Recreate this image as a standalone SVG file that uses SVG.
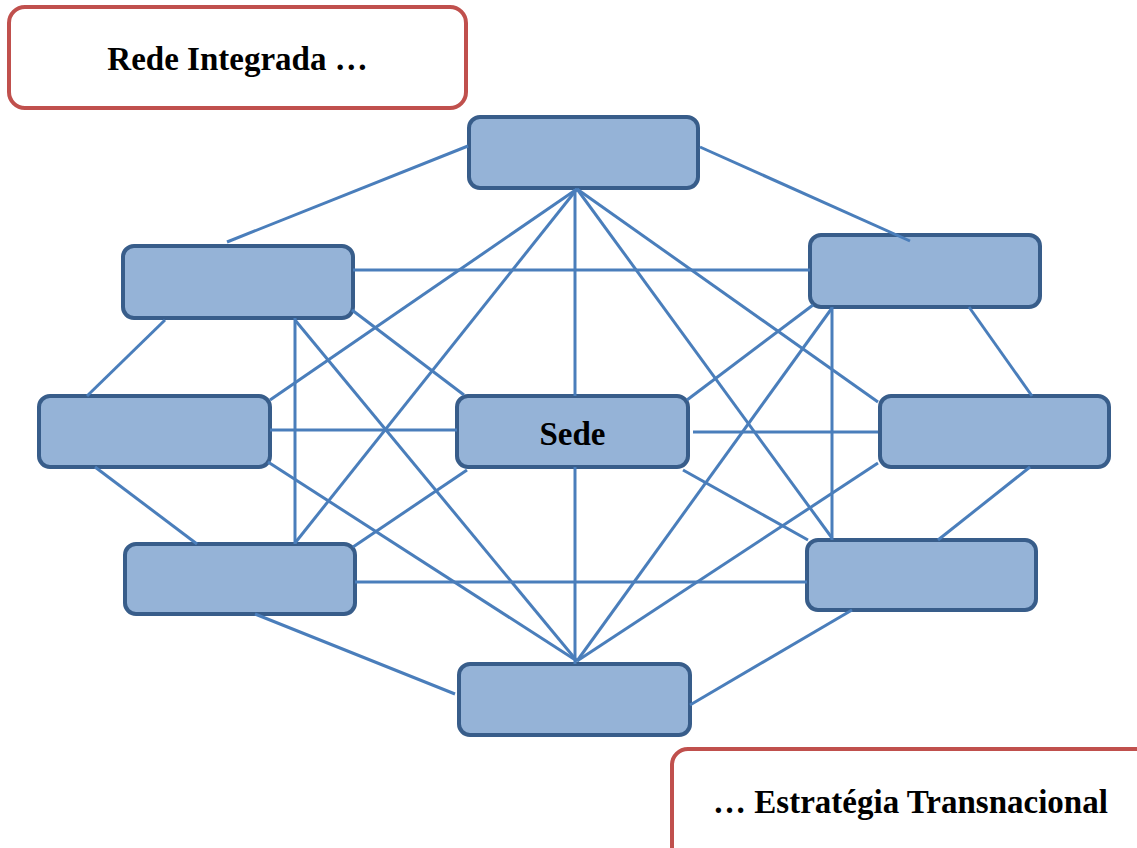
<svg xmlns="http://www.w3.org/2000/svg" width="1137" height="848" viewBox="0 0 1137 848">
  <style>
    .node { fill: #95b3d7; stroke: #385d8a; stroke-width: 4; }
    .note { fill: #ffffff; stroke: #c0504d; stroke-width: 4; }
    .link { stroke: #4a7ebb; stroke-width: 3; fill: none; stroke-linecap: butt; }
    .label { font-family: "Liberation Serif", "Times New Roman", serif; font-weight: bold; font-size: 33px; fill: #000000; text-anchor: middle; }
  </style>

  <!-- Caption boxes -->
  <g id="note-top">
    <rect class="note" x="9" y="7" width="457" height="101" rx="16" ry="16"/>
    <text class="label" x="237.5" y="70">Rede Integrada …</text>
  </g>
  <g id="note-bottom">
    <rect class="note" x="672" y="749" width="480" height="130" rx="16" ry="16"/>
    <text class="label" x="910.5" y="813">… Estratégia Transnacional</text>
  </g>

  <!-- Network units -->
  <g id="node-top"><rect class="node" x="469" y="117" width="229" height="71" rx="11" ry="11"/></g>
  <g id="node-upper-left"><rect class="node" x="123" y="246" width="230" height="72" rx="11" ry="11"/></g>
  <g id="node-upper-right"><rect class="node" x="810" y="235" width="230" height="72" rx="11" ry="11"/></g>
  <g id="node-left"><rect class="node" x="39" y="396" width="231" height="71" rx="11" ry="11"/></g>
  <g id="node-sede">
    <rect class="node" x="457" y="396" width="231" height="71" rx="11" ry="11"/>
    <text class="label" x="572.5" y="445">Sede</text>
  </g>
  <g id="node-right"><rect class="node" x="880" y="396" width="229" height="71" rx="11" ry="11"/></g>
  <g id="node-lower-left"><rect class="node" x="125" y="544" width="230" height="70" rx="11" ry="11"/></g>
  <g id="node-lower-right"><rect class="node" x="807" y="540" width="229" height="70" rx="11" ry="11"/></g>
  <g id="node-bottom"><rect class="node" x="459" y="664" width="231" height="71" rx="11" ry="11"/></g>

  <!-- Connectors -->
  <g id="connectors" class="link">
    <!-- outer ring -->
    <line class="link" x1="227" y1="242" x2="468" y2="146"/>
    <line class="link" x1="700" y1="147" x2="910" y2="241"/>
    <line class="link" x1="165" y1="320" x2="87" y2="396"/>
    <line class="link" x1="95" y1="467" x2="197" y2="544"/>
    <line class="link" x1="255" y1="614" x2="455" y2="694"/>
    <line class="link" x1="690" y1="705" x2="852" y2="610"/>
    <line class="link" x1="938" y1="540" x2="1030" y2="467"/>
    <line class="link" x1="969" y1="307" x2="1032" y2="396"/>
    <!-- horizontals and verticals -->
    <line class="link" x1="353" y1="270" x2="810" y2="270"/>
    <line class="link" x1="355" y1="582" x2="807" y2="582"/>
    <line class="link" x1="295" y1="318" x2="295" y2="544"/>
    <line class="link" x1="832" y1="307" x2="832" y2="540"/>
    <line class="link" x1="575" y1="189" x2="575" y2="396"/>
    <line class="link" x1="575" y1="467" x2="575" y2="664"/>
    <line class="link" x1="270" y1="430" x2="457" y2="430"/>
    <line class="link" x1="693" y1="432" x2="878" y2="432"/>
    <!-- Sede diagonals -->
    <line class="link" x1="352" y1="310" x2="464" y2="395"/>
    <line class="link" x1="687" y1="400" x2="813" y2="305"/>
    <line class="link" x1="467" y1="470" x2="353" y2="547"/>
    <line class="link" x1="683" y1="470" x2="808" y2="540"/>
    <!-- fan from the top unit -->
    <line class="link" x1="577" y1="189" x2="270" y2="400"/>
    <line class="link" x1="577" y1="189" x2="295" y2="543"/>
    <line class="link" x1="577" y1="189" x2="878" y2="402"/>
    <line class="link" x1="577" y1="189" x2="832" y2="538"/>
    <!-- fan from the bottom unit -->
    <line class="link" x1="577" y1="661" x2="295" y2="320"/>
    <line class="link" x1="577" y1="661" x2="268" y2="462"/>
    <line class="link" x1="577" y1="661" x2="832" y2="308"/>
    <line class="link" x1="577" y1="661" x2="878" y2="463"/>
  </g>
</svg>
